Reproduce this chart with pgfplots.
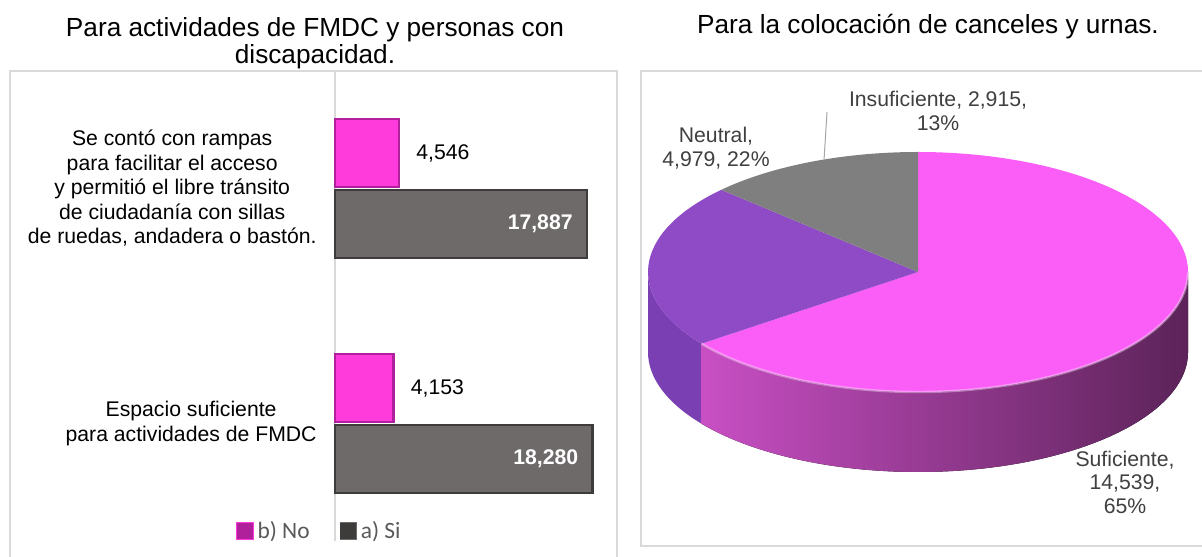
\documentclass[border=0pt]{standalone}
\usepackage{pgfplots}
\pgfplotsset{compat=1.18}
\usepackage{fontspec}
\setmainfont{Liberation Sans}
\newfontfamily\legfont{Carlito}

\definecolor{magbar}{HTML}{FF3CDB}
\definecolor{magedge}{HTML}{B0209A}
\definecolor{graybar}{HTML}{6E6A6A}
\definecolor{grayedge}{HTML}{3E3B3B}
\definecolor{boxgray}{HTML}{D9D9D9}
\definecolor{sufTop}{HTML}{FB5EF6}
\definecolor{sufSideL}{HTML}{C84FC4}
\definecolor{sufSideM}{HTML}{973A91}
\definecolor{sufSideR}{HTML}{5C2359}
\definecolor{neuTop}{HTML}{8E4BC5}
\definecolor{neuSide}{HTML}{7A3FB2}
\definecolor{insTop}{HTML}{7F7F7F}
\definecolor{lbl}{HTML}{404040}
\definecolor{leggray}{HTML}{595959}

% pie data
\def\vSuf{14539}
\def\vNeu{4979}
\def\vIns{2915}

\begin{document}
\begin{tikzpicture}[font=\fontsize{10.6pt}{12.25pt}\selectfont]
\path[use as bounding box] (0,0) rectangle (601pt,278pt);
% panel frames
\draw[boxgray, line width=1pt] (5pt,-20pt) -- (5pt,242.5pt) -- (308.5pt,242.5pt) -- (308.5pt,-20pt);
\draw[boxgray, line width=1pt] (700pt,5pt) -- (320.5pt,5pt) -- (320.5pt,242.5pt) -- (700pt,242.5pt);

% titles
\node[align=center, font=\fontsize{13.1pt}{13.5pt}\selectfont] at (157.5pt,256.25pt)
  {Para actividades de FMDC y personas con\\discapacidad.};
\node[font=\fontsize{13.1pt}{13.5pt}\selectfont] at (464pt,264.5pt) {Para la colocación de canceles y urnas.};

% ---------- bar chart ----------
\begin{axis}[
  at={(167.5pt,7.5pt)}, anchor=south west,
  scale only axis, width=133.84pt, height=235pt,
  xmin=0, xmax=19000, ymin=0, ymax=2,
  xbar, bar width=34pt,
  axis x line=none, axis y line*=left,
  axis line style={boxgray, line width=1pt},
  xtick=\empty,
  ytick={0.5,1.5},
  yticklabels={{Espacio suficiente\\para actividades de FMDC},
               {Se contó con rampas\\para facilitar el acceso\\y permitió el libre tránsito\\de ciudadanía con sillas\\de ruedas, andadera o bastón.}},
  major tick length=0pt,
  yticklabel style={align=center, inner xsep=0pt, xshift=-9pt,
     font=\fontsize{10.6pt}{12.25pt}\selectfont},
  clip=false,
  nodes near coords, point meta=x,
  /pgf/number format/1000 sep={,},
  /pgf/number format/assume math mode=true,
  legend columns=2,
  legend style={draw=none, fill=none, at={(-0.37,0.0213)}, anchor=west,
     inner sep=0pt, font=\legfont\fontsize{11.7pt}{13pt}\selectfont, text=leggray,
     /tikz/every even column/.append style={column sep=13pt}},
]
\addplot[fill=magbar, draw=magedge, line width=1.4pt, bar shift=17.75pt,
  every node near coord/.append style={anchor=west, inner xsep=0pt, xshift=8pt, black,
     font=\fontsize{10.6pt}{12pt}\selectfont},
  legend image code/.code={\fill[magbar] (0pt,-3.6pt) rectangle (7.2pt,3.6pt);
     \draw[magedge,line width=0.6pt] (0pt,-3.6pt) rectangle (7.2pt,3.6pt);}]
  coordinates {(4153,0.5) (4546,1.5)};
\addlegendentry{b) No}
\addplot[fill=graybar, draw=grayedge, line width=1.4pt, bar shift=-17.75pt,
  every node near coord/.append style={anchor=east, inner xsep=0pt, xshift=-6.5pt, white,
     font=\bfseries\fontsize{10.6pt}{12pt}\selectfont},
  legend image code/.code={\fill[graybar] (0pt,-3.6pt) rectangle (7.2pt,3.6pt);
     \draw[grayedge,line width=0.6pt] (0pt,-3.6pt) rectangle (7.2pt,3.6pt);}]
  coordinates {(18280,0.5) (17887,1.5)};
\addlegendentry{a) Si}
\end{axis}

% ---------- pie chart ----------
\pgfmathsetmacro\tot{\vSuf/1000+\vNeu/1000+\vIns/1000}
\pgfmathsetmacro\aSuf{\vSuf/1000/\tot*360}
\pgfmathsetmacro\aIns{\vIns/1000/\tot*360}
\pgfmathsetmacro\bA{90+\aIns}
\pgfmathsetmacro\bB{450-\aSuf}
\pgfmathsetmacro\cBx{270*cos(\bB)}
\pgfmathsetmacro\cBy{120*sin(\bB)}
\pgfmathsetmacro\cByd{120*sin(\bB)-80}
\pgfmathsetmacro\cAx{270*cos(\bA)}
\pgfmathsetmacro\cAy{120*sin(\bA)}
\begin{axis}[
  at={(319pt,37pt)}, anchor=south west,
  hide axis, clip=false,
  x=0.5pt, y=0.5pt,
  xmin=-280, xmax=280, ymin=-210, ymax=130,
]
% side walls
\fill[neuSide] (axis cs:-270,0) arc[start angle=180, end angle=\bB, x radius=135pt, y radius=60pt]
   -- (axis cs:\cBx,\cByd) arc[start angle=\bB, end angle=180, x radius=135pt, y radius=60pt] -- cycle;
\fill[left color=sufSideL, middle color=sufSideM, right color=sufSideR]
   (axis cs:\cBx,\cBy) arc[start angle=\bB, end angle=360, x radius=135pt, y radius=60pt]
   -- (axis cs:270,-80) arc[start angle=360, end angle=\bB, x radius=135pt, y radius=60pt] -- cycle;
% top faces
\fill[sufTop] (axis cs:0,0) -- (axis cs:\cBx,\cBy)
   arc[start angle=\bB, end angle=450, x radius=135pt, y radius=60pt] -- cycle;
\fill[neuTop] (axis cs:0,0) -- (axis cs:\cAx,\cAy)
   arc[start angle=\bA, end angle=\bB, x radius=135pt, y radius=60pt] -- cycle;
\fill[insTop] (axis cs:0,0) -- (axis cs:0,120)
   arc[start angle=90, end angle=\bA, x radius=135pt, y radius=60pt] -- cycle;
% rim highlight
\draw[white, opacity=0.35, line width=1.2pt] (axis cs:\cBx,\cBy)
   arc[start angle=\bB, end angle=360, x radius=135pt, y radius=60pt];
% leader line
\draw[black!35, line width=0.5pt] (axis cs:-91,160) -- (axis cs:-94,112);
% labels
\node[align=center, text=lbl, font=\fontsize{10.6pt}{11.75pt}\selectfont] at (axis cs:20,161)
   {Insuficiente, 2,915,\\13\%};
\node[align=center, text=lbl, font=\fontsize{10.6pt}{11.75pt}\selectfont] at (axis cs:-202,124)
   {Neutral,\\4,979, 22\%};
\node[align=center, text=lbl, font=\fontsize{10.6pt}{11.75pt}\selectfont] at (axis cs:207,-210)
   {Suficiente,\\14,539,\\65\%};
\end{axis}
\end{tikzpicture}
\end{document}
